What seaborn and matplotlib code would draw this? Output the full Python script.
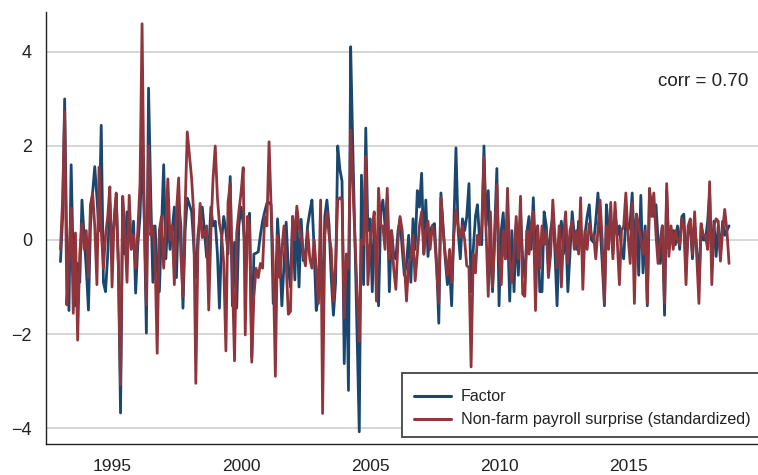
import numpy as np
import pandas as pd
import matplotlib
matplotlib.use("Agg")
import matplotlib.pyplot as plt
import matplotlib.dates as mdates
from matplotlib.patches import Rectangle
import seaborn as sns

sns.set_style("white")
plt.rcParams['font.family'] = ['Liberation Sans', 'DejaVu Sans']

## monthly data, Jan 1993 - Dec 2018 (one row per year)
start = '1993-01-01'
factor = [
    -0.46, 0.5, 3.0, -0.3, -1.5, 1.6, -0.5, -1.4, -0.5, -0.9, 0.85, 0.1,
    -0.6, -1.49, 0.3, 1.0, 1.56, 0.9, 0.2, 2.44, -0.9, -1.1, -0.3, 0.8,
    -0.2, 0.4, 0.9, -0.5, -3.68, 0.8, -0.3, 0.6, 0.3, -0.2, 0.4, -1.13,
    -0.1, 0.5, 2.0, 0.5, -1.98, 3.23, 1.0, -0.9, 0.3, -0.6, -1.1, 0.2,
    1.6, -0.4, 0.5, -0.2, 0.2, 0.7, -0.8, 0.8, 0.3, -1.45, 0.2, 0.89,
    0.75, 0.6, -0.05, -0.8, 0.1, 0.5, 0.7, 0.2, -0.37, -0.2, 0.7, 0.3,
    0.4, -0.3, -1.45, 0.0, 0.5, 0.2, -0.3, 1.35, -1.4, -0.05, -1.45, 0.3,
    0.7, 0.35, -0.3, 0.2, 0.57, -2.49, -0.3, -0.28, -0.25, 0.1, 0.4, 0.6,
    0.78, 0.8, 0.75, -1.35, -1.35, 0.45, -0.3, -1.4, -0.5, 0.38, -0.6, -1.0,
    0.5, -0.85, 0.6, -1.0, 0.44, -0.44, -0.3, 0.3, 0.6, 0.85, -0.2, -1.5,
    -1.2, -0.3, -1.45, 0.5, 0.85, 0.3, -0.8, -1.6, -0.9, 2.0, 1.5, 1.25,
    -2.63, -0.3, -3.2, 4.11, 2.0, 0.0, -2.0, -4.08, 1.38, -0.95, 2.38, 0.2,
    0.45, -1.1, 0.3, -0.5, -1.4, 0.6, 0.85, 0.3, 0.9, -1.1, 0.2, -0.3,
    -0.4, 0.2, 0.45, -0.2, -0.75, -0.5, 0.1, -0.9, 0.45, -0.2, 1.05, 0.7,
    1.42, -0.3, 0.85, -0.35, 0.2, 0.3, 0.35, -0.5, -1.77, 1.0, 0.3, -0.4,
    -0.95, -0.6, -1.4, 0.3, 1.96, 0.2, -0.4, 0.45, 0.2, 0.5, 1.2, -1.1,
    -0.2, 0.5, 0.75, 0.0, -0.1, 2.0, 0.3, 1.05, -0.3, -1.1, 0.2, 1.52,
    -1.4, 0.2, 0.58, -0.4, 0.3, -1.3, 0.2, -1.1, 0.3, -0.75, 0.6, -0.4,
    -0.8, 0.2, 0.5, -0.2, 0.9, -0.3, 0.3, -1.1, -1.1, 0.6, 0.3, -0.55,
    0.2, 0.5, -0.2, -1.4, 0.0, 0.4, -0.3, 0.3, -1.1, -0.3, 0.6, 0.1,
    -0.2, 0.4, 0.3, -0.4, 0.1, 0.5, 0.75, 0.0, -0.05, 0.4, 1.0, 0.3,
    -0.5, -1.4, 0.75, 0.2, 0.4, -0.3, 0.6, 0.1, 0.3, -0.2, -0.4, 0.5,
    0.2, 0.4, 1.0, -0.2, 0.55, -0.75, 0.95, -0.7, 0.3, -1.4, 1.05, 0.7,
    0.5, 0.75, 0.0, -0.5, 0.3, -1.6, 1.05, -0.2, 0.05, 0.2, -0.1, 0.3,
    -0.2, 0.5, 0.55, -0.6, 0.2, 0.3, -0.4, 0.3, -0.2, -0.9, 0.3, 0.0,
    0.0, 0.4, 1.0, -0.6, 0.4, -0.35, 0.3, -0.3, 0.4, 0.1, 0.2, 0.3,
]
payroll = [
    -0.2, 0.9, 2.73, -1.38, -0.4, 0.68, -1.56, 0.15, -2.13, -0.3, 0.35, -0.2,
    0.2, -0.8, 0.74, 1.0, 0.3, -0.95, 1.55, 0.2, -0.6, 0.1, 0.5, 1.13,
    -1.0, 0.5, 1.0, -0.6, -3.08, 0.93, 0.2, -0.9, 0.95, -0.18, 0.1, -0.6,
    0.2, 1.2, 4.6, 0.5, -1.38, 2.0, 0.1, 0.3, -0.4, -2.41, 0.2, 0.5,
    -0.6, 0.3, 1.3, 0.0, 0.3, -0.95, 0.6, 1.32, -0.3, -1.2, 0.7, 2.3,
    1.8, 1.3, 0.6, -3.05, -0.2, 0.78, 0.05, 0.1, 0.3, -1.49, 0.2, 1.3,
    2.0, 0.9, 0.35, 0.1, -0.5, -2.36, 0.8, 1.2, -0.8, -2.57, 0.15, 0.6,
    1.0, 1.54, -2.02, 0.5, 0.3, -2.6, -1.2, -0.6, -0.8, -0.5, -0.6, 0.5,
    0.3, 2.09, 0.75, -0.5, -2.9, 0.1, -0.8, -0.2, 0.3, -0.5, -1.58, -1.52,
    0.5, 0.0, 0.72, 0.3, 0.1, -0.3, -0.55, 0.2, -0.4, -0.6, 0.0, -0.6,
    -1.35, 0.85, -3.69, 0.1, 0.6, 0.1, -0.2, -1.3, -0.5, 0.85, 0.9, 0.85,
    -1.65, -0.3, -0.6, 2.34, 1.2, 0.0, -1.1, -2.16, 0.0, -0.1, 1.78, -0.95,
    -0.1, 0.3, 0.6, -1.3, 1.1, 0.3, 0.3, -0.2, 1.1, -0.4, 0.2, -0.6,
    -1.05, 0.0, 0.5, 0.2, -0.5, -1.3, -0.5, -0.4, 0.1, -0.87, -0.3, 0.3,
    0.6, -0.3, 0.2, 0.4, -0.2, 0.3, 0.1, -0.6, -1.35, 0.9, 0.2, -0.3,
    -0.75, -0.2, -0.9, 0.1, 0.64, 0.3, 0.05, 0.3, 0.0, -0.55, -0.58, -2.7,
    -0.3, -0.7, 0.1, -0.1, 0.3, 1.75, 0.2, -1.2, 0.6, -1.0, 0.0, 1.18,
    -0.3, -0.95, 0.2, -0.4, 1.1, -0.4, -0.9, -0.3, 0.5, -0.4, 0.93, -1.15,
    -1.2, 0.2, -0.3, 0.3, 0.6, -1.5, 0.3, -0.6, 0.3, -0.1, 0.2, -0.8,
    -0.3, 0.85, 0.1, -0.6, 0.3, -1.0, 0.1, 0.6, -0.5, 0.2, 0.4, -0.2,
    0.2, -0.3, 0.9, -1.05, 0.2, -0.2, 0.35, 0.1, 0.1, -0.4, 0.2, 0.85,
    0.0, -1.35, 0.3, -0.2, 0.8, -0.4, 0.8, 0.0, -0.95, 0.2, 0.3, 1.0,
    0.1, -0.5, 0.8, -1.35, 0.55, 0.3, 0.0, -0.3, 0.2, -1.35, 1.1, 0.5,
    1.0, 0.1, -0.5, 0.0, 0.3, -1.35, 1.2, -0.35, 0.3, -0.2, 0.2, 0.0,
    -0.1, 0.45, 0.3, -0.95, 0.3, 0.45, -0.3, 0.6, -0.4, -1.35, 0.35, 0.1,
    0.1, -0.2, 1.24, -0.95, 0.3, 0.45, 0.4, -0.45, 0.2, 0.65, 0.2, -0.5,
]
labels = ['Factor', 'Non-farm payroll surprise (standardized)']
corr_text = 'corr = 0.70'
year_ticks = [1995, 2000, 2005, 2010, 2015]

df = pd.DataFrame({'date': pd.date_range(start, periods=len(factor), freq='MS'),
                   'factor': factor, 'payroll': payroll})

blue = '#1a476f'
red = '#90353b'

fig = plt.figure(figsize=(7.58, 4.75), dpi=100)
ax = fig.add_axes([46/758, 1 - 444/475, 1 - 46/758, (444 - 12)/475])

# horizontal grid
for y in [-4, -2, 0, 2, 4]:
    ax.axhline(y, color='#d0d0d0', lw=1.2, zorder=0)

sns.lineplot(data=df, x='date', y='factor', ax=ax, color=blue, lw=2.0)
sns.lineplot(data=df, x='date', y='payroll', ax=ax, color=red, lw=2.0)

ax.set_xlim(pd.Timestamp('1992-06-10'), pd.Timestamp('2020-01-15'))
ax.set_ylim(-4.34, 4.85)
ax.set_xlabel('')
ax.set_ylabel('')
ax.set_xticks([pd.Timestamp(f'{y}-01-01') for y in year_ticks])
ax.set_xticklabels([str(y) for y in year_ticks])
ax.set_yticks([-4, -2, 0, 2, 4])
ax.set_yticklabels(['\u22124', '\u22122', '0', '2', '4'])

for s in ['top', 'right']:
    ax.spines[s].set_visible(False)
for s in ['left', 'bottom']:
    ax.spines[s].set_color('#222222')
    ax.spines[s].set_linewidth(1.0)
ax.tick_params(axis='x', direction='out', length=5, width=1, labelsize=12.5, pad=6, colors='#222222')
ax.tick_params(axis='y', direction='out', length=5, width=1, labelsize=13, pad=5, colors='#222222')

ax.text(748/758, 1 - 82/475, corr_text, transform=fig.transFigure,
        ha='right', va='center', fontsize=13.5, color='#222222')

# legend box (runs off the right edge like the original)
fig.patches.append(Rectangle((402/758, 1 - 437/475), 0.6, (437 - 373)/475,
                             transform=fig.transFigure, facecolor='white',
                             edgecolor='#444444', lw=1.3, zorder=5))
handles = [plt.Line2D([], [], color=blue, lw=2.2), plt.Line2D([], [], color=red, lw=2.2)]
leg = fig.legend(handles, labels, loc='upper left', bbox_to_anchor=(403/758, 1 - 378/475),
                 frameon=False, fontsize=11.6, handlelength=2.3, handletextpad=0.6,
                 labelspacing=0.5, borderpad=0.2)
leg.set_zorder(6)
for t in leg.get_texts():
    t.set_color('#222222')

fig.savefig('out.png', dpi=100)
